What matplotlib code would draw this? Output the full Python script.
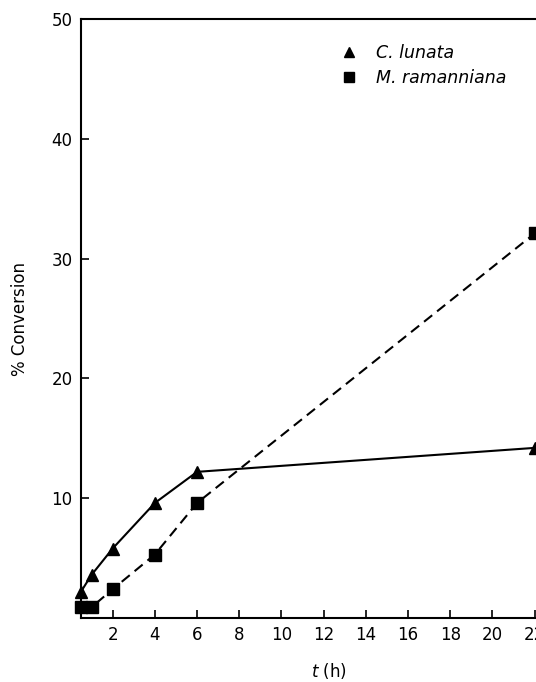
import matplotlib
matplotlib.use("Agg")
import matplotlib.pyplot as plt

t_lunata = [0.5, 1, 2, 4, 6, 22]
conv_lunata = [2.2, 3.6, 5.8, 9.6, 12.2, 14.2]
t_ramann = [0.5, 1, 2, 4, 6, 22]
conv_ramann = [0.9, 0.9, 2.4, 5.3, 9.6, 32.1]
xticks = [2, 4, 6, 8, 10, 12, 14, 16, 18, 20, 22, 24]
yticks = [10, 20, 30, 40, 50]

plt.rcParams['font.family'] = ['DejaVu Sans']
fig = plt.figure(figsize=(5.36, 6.82), dpi=100)
x0, x1 = 0.5, 24
px_per_unit = 21.1
left_px = 81
right_px = left_px + (x1 - x0) * px_per_unit
ax = fig.add_axes([left_px / 536, (682 - 618) / 682, (right_px - left_px) / 536, (618 - 19) / 682])

ax.plot(t_lunata, conv_lunata, '-', color='black', lw=1.5, marker='^', ms=9,
        label='C. lunata', clip_on=False, zorder=3)
ax.plot(t_ramann, conv_ramann, '--', color='black', lw=1.5, marker='s', ms=8,
        dashes=(5, 3), label='M. ramanniana', clip_on=False, zorder=3)

ax.set_xlim(x0, x1)
ax.set_ylim(0, 50)
ax.set_xticks(xticks)
ax.set_yticks(yticks)
ax.tick_params(direction='in', length=6, width=1.2, labelsize=12, pad=6)
for s in ax.spines.values():
    s.set_linewidth(1.5)

ax.set_ylabel('% Conversion', fontsize=12, labelpad=16)
ax.set_xlabel(r'$\it{t}$ (h)', fontsize=12, labelpad=12)

leg = ax.legend(loc='upper left', bbox_to_anchor=(0.508, 0.985), frameon=False,
                handlelength=0, handletextpad=1.6, fontsize=12.5, labelspacing=0.45,
                markerscale=0.85)
for txt in leg.get_texts():
    txt.set_fontstyle('italic')
for h in leg.legend_handles:
    h.set_linestyle('None')

fig.savefig('out.png', dpi=100)
